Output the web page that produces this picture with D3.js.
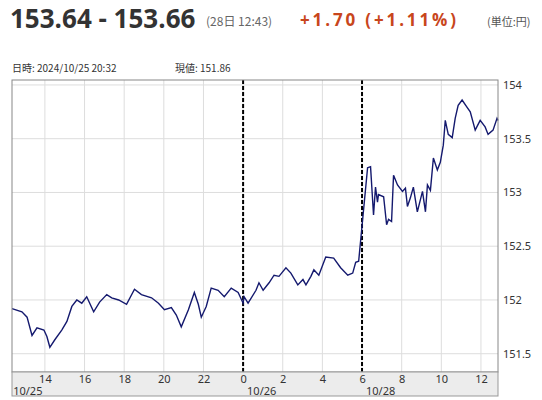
<!DOCTYPE html><html><head><meta charset="utf-8">
<script src="https://cdn.jsdelivr.net/npm/d3@7"></script>
<style>body{margin:0;background:#fff;font-family:"Noto Sans CJK JP","Noto Sans",sans-serif}</style></head><body>
<svg id="c" width="542" height="400"></svg>
<script>
// trading-time hours from 10/25 00:00 (weekend compressed: 10/28 06:00 = 30)
const hours=[12.34,12.84,13.10,13.35,13.60,13.95,14.10,14.25,14.50,14.85,15.11,15.36,15.61,15.86,16.11,16.46,16.76,17.12,17.37,17.72,18.12,18.52,18.87,19.38,19.73,20.03,20.38,20.63,20.88,21.24,21.54,21.74,21.89,22.14,22.39,22.74,23.05,23.40,23.75,24.0,
24.05,24.25,24.65,24.80,25.01,25.31,25.56,25.81,26.16,26.41,26.76,27.02,27.17,27.42,27.57,27.82,28.17,28.57,28.92,29.28,29.53,29.68,29.83,
30.28,30.43,30.58,30.68,30.78,30.83,31.09,31.24,31.34,31.49,31.59,31.79,32.04,32.19,32.29,32.44,32.59,32.79,33.05,33.20,33.30,33.45,33.60,33.80,33.95,34.10,34.20,34.35,34.55,34.70,34.85,35.05,35.31,35.46,35.71,35.96,36.21,36.36,36.61,36.81,36.86];
const prices=[151.92,151.89,151.84,151.67,151.74,151.72,151.66,151.56,151.63,151.72,151.80,151.94,152.00,151.97,152.03,151.89,151.98,152.05,152.02,152.00,151.96,152.10,152.05,152.02,151.97,151.91,151.93,151.86,151.75,151.91,152.07,151.96,151.84,151.94,152.11,152.09,152.03,152.11,152.07,151.97,
152.03,151.97,152.09,152.16,152.09,152.16,152.23,152.22,152.30,152.25,152.14,152.19,152.14,152.22,152.28,152.23,152.40,152.39,152.30,152.23,152.25,152.35,152.36,
153.23,153.24,152.79,153.05,152.91,152.98,152.96,152.70,152.75,152.73,153.16,153.07,153.01,153.04,152.87,152.95,153.05,152.82,153.01,152.82,153.07,153.02,153.32,153.21,153.28,153.44,153.67,153.54,153.51,153.69,153.81,153.86,153.79,153.75,153.58,153.67,153.61,153.54,153.58,153.69,153.67];
const xTicks=[14,16,18,20,22,24,26,28,30,32,34,36];
const xTickLabels=["14","16","18","20","22","0","2","4","6","8","10","12"];
const dateMarks=[{t:12.4,label:"10/25"},{t:24.2,label:"10/26"},{t:30.2,label:"10/28"}];
const sessionBreaks=[24,30];
const yTicks=[151.5,152,152.5,153,153.5,154];

const svg=d3.select("#c");
const L=12,R=498,T=80,B=372;
const x=d3.scaleLinear().domain([12.34,36.86]).range([L,R]);
const y=d3.scaleLinear().domain([151.33,154.046]).range([B,T]);

// header
svg.append("text").attr("x",10).attr("y",28).attr("font-size",26).attr("font-weight","bold").attr("fill","#333").attr("font-family","Open Sans, sans-serif").text("153.64 - 153.66");
svg.append("text").attr("x",206).attr("y",26).attr("font-size",12).attr("fill","#666").text("(28日 12:43)");
svg.append("text").attr("x",300).attr("y",26).attr("font-size",17).attr("font-weight","bold").attr("fill","#c8461c").attr("font-family","Open Sans, sans-serif").text("+1.70 (+1.11%)").attr("textLength",156);
svg.append("text").attr("x",487).attr("y",26).attr("font-size",11).attr("fill","#555").text("(単位:円)");
svg.append("text").attr("x",12).attr("y",72).attr("font-size",10).attr("fill","#333").text("日時: 2024/10/25  20:32");
svg.append("text").attr("x",175).attr("y",72).attr("font-size",10).attr("fill","#333").text("現値: 151.86");

// grid
svg.append("g").selectAll("line").data(xTicks).join("line").attr("x1",d=>x(d)).attr("x2",d=>x(d)).attr("y1",T).attr("y2",B).attr("stroke","#ddd");
svg.append("g").selectAll("line").data(yTicks).join("line").attr("x1",L).attr("x2",R).attr("y1",d=>y(d)).attr("y2",d=>y(d)).attr("stroke","#ddd");
svg.append("g").selectAll("line").data(sessionBreaks).join("line").attr("x1",d=>x(d)).attr("x2",d=>x(d)).attr("y1",T).attr("y2",B).attr("stroke","#000").attr("stroke-width",2).attr("stroke-dasharray","4,2");

// line
const data=hours.map((h,i)=>[h,prices[i]]);
svg.append("path").datum(data).attr("fill","none").attr("stroke","#14196e").attr("stroke-width",1.4)
 .attr("d",d3.line().x(d=>x(d[0])).y(d=>y(d[1])));

svg.append("rect").attr("x",L).attr("y",T).attr("width",R-L).attr("height",B-T).attr("fill","none").attr("stroke","#888");

// x axis band
svg.append("rect").attr("x",L).attr("y",B).attr("width",R-L).attr("height",24).attr("fill","#ececec").attr("stroke","#999");
const xa=d3.axisBottom(x).tickValues(xTicks).tickFormat((d,i)=>xTickLabels[i]).tickSize(0).tickPadding(3);
svg.append("g").attr("transform",`translate(0,${B})`).call(xa).call(g=>g.select(".domain").remove())
 .selectAll("text").attr("font-size",11).attr("fill","#333").attr("font-family","Noto Sans, sans-serif");
svg.append("g").selectAll("text").data(dateMarks).join("text").attr("x",d=>x(d.t)).attr("y",395).attr("font-size",11).attr("fill","#333").attr("font-family","Noto Sans, sans-serif").text(d=>d.label);

// y axis
const ya=d3.axisRight(y).tickValues(yTicks).tickFormat(d3.format("")).tickSize(0).tickPadding(5);
svg.append("g").attr("transform",`translate(${R},0)`).call(ya).call(g=>g.select(".domain").remove())
 .selectAll("text").attr("font-size",11).attr("fill","#333").attr("font-family","Noto Sans, sans-serif");
</script></body></html>
